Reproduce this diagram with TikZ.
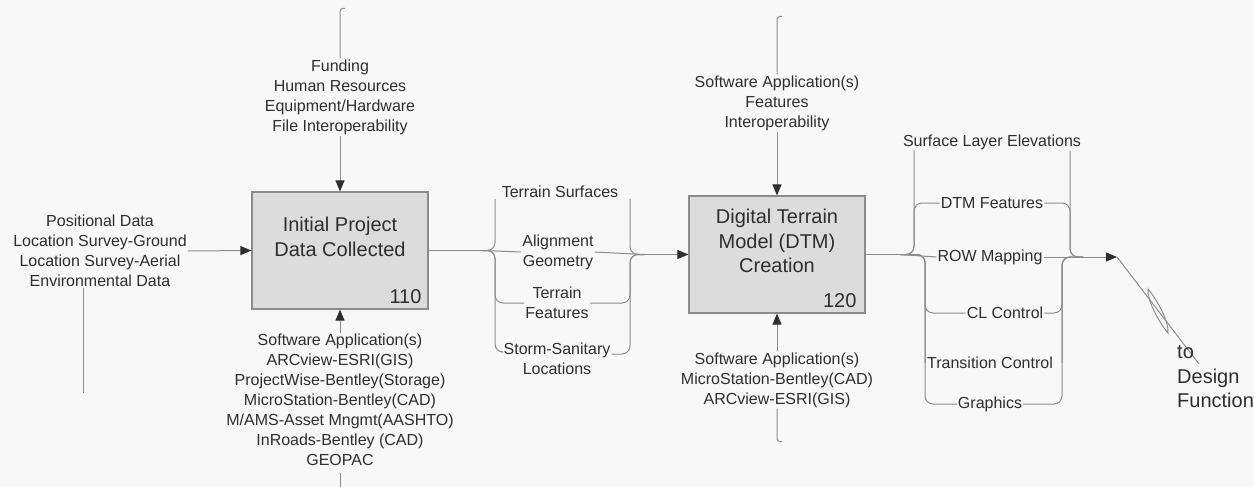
\documentclass[tikz,border=0pt]{standalone}
\usepackage{fontspec}
\setmainfont{Liberation Sans}
\usetikzlibrary{arrows.meta,positioning}

\definecolor{ink}{HTML}{2E2E2E}
\definecolor{wiregray}{HTML}{8C8C8C}
\definecolor{boxgray}{HTML}{DCDCDC}
\definecolor{paper}{HTML}{F8F8F8}

\tikzset{
	activity/.style={draw=wiregray,fill=boxgray,line width=1.2pt,minimum width=176pt,minimum height=117pt,inner sep=0pt},
	boxtext/.style={text=ink,align=center,font=\fontsize{20}{24.5}\selectfont},
	boxnum/.style={text=ink,anchor=south east,inner sep=0pt,font=\fontsize{20}{24}\selectfont},
	note/.style={text=ink,align=center,inner sep=1pt,font=\fontsize{16}{20}\selectfont},
	link/.style={draw=wiregray,line width=1pt},
	flow/.style={link,rounded corners=8pt},
	feed/.style={link,-{Triangle[length=11pt,width=9pt,color=ink]}},
}

\begin{document}
\begin{tikzpicture}[x=1pt,y=-1pt]
	\fill[paper] (0,0) rectangle (1254,487);
	\useasboundingbox (0,0) rectangle (1254,487);

	% the two activities
	\node[activity] (a110) at (340,250.5) {};
	\node[boxtext] (a110t) at (340,237) {Initial Project\\Data Collected};
	\node[boxnum] (a110n) at ([xshift=-7pt,yshift=6pt]a110.south east) {110};
	\node[activity] (a120) at (777,254.5) {};
	\node[boxtext] (a120t) at (777,241) {Digital Terrain\\Model (DTM)\\Creation};
	\node[boxnum] (a120n) at ([xshift=-9pt,yshift=6pt]a120.south east) {120};

	% input, controls and mechanisms of 110
	\node[note] (in110) at (100,251) {Positional Data\\Location Survey-Ground\\Location Survey-Aerial\\Environmental Data};
	\node[note] (ctl110) at (340,97) {Funding\\Human Resources\\Equipment/Hardware\\File Interoperability};
	\node[note] (mech110) at (340,400) {Software Application(s)\\ARCview-ESRI(GIS)\\ProjectWise-Bentley(Storage)\\MicroStation-Bentley(CAD)\\M/AMS-Asset Mngmt(AASHTO)\\InRoads-Bentley (CAD)\\GEOPAC};
	\draw[feed] (in110.east) -- (a110.west);
	\draw[link] ([xshift=-17pt]in110.south) -- ++(0,105);
	\draw[feed] (ctl110.south) -- (a110.north);
	\draw[link,rounded corners=3pt] (ctl110.north) -- ++(0,-50) -- ++(5,0);
	\draw[feed] (mech110.north) -- (a110.south);
	\draw[link] ([yshift=-6pt]mech110.south) -- ++(0,20);

	% controls and mechanisms of 120
	\node[note] (ctl120) at (777,103) {Software Application(s)\\Features\\Interoperability};
	\node[note] (mech120) at (777,380) {Software Application(s)\\MicroStation-Bentley(CAD)\\ARCview-ESRI(GIS)};
	\draw[feed] (ctl120.south) -- (a120.north);
	\draw[link,rounded corners=3pt] (ctl120.north) -- ++(0,-58) -- ++(5,0);
	\draw[feed] (mech120.north) -- (a120.south);
	\draw[link,rounded corners=3pt] (mech120.south) -- ++(0,33) -- ++(5,0);

	% 110 -> 120 bundle
	\coordinate (s1) at ([xshift=54pt]a110.east);
	\coordinate (j1) at ([xshift=-44pt]a120.west);
	\coordinate (bl1) at (495,0);
	\coordinate (br1) at (630,0);
	\node[note] (ts) at (560,192) {Terrain Surfaces};
	\node[note] (ag) at (558,252) {Alignment\\Geometry};
	\node[note] (tf) at (557,303) {Terrain\\Features};
	\node[note] (ss) at (557,359) {Storm-Sanitary\\Locations};
	\draw[link] (a110.east) -- (s1);
	\draw[flow] (s1) -| (bl1 |- ts.south);
	\draw[flow] (br1 |- ts.south) |- (j1);
	\draw[link] (s1) -- (ag.west);
	\draw[link] (ag.east) -- (j1);
	\draw[flow] (s1) -| (bl1 |- tf.west) -- (tf.west);
	\draw[flow] (tf.east) -| (br1 |- j1) -- (j1);
	\draw[flow] (s1) -| ([yshift=7pt]bl1 |- ss.west) -- ([yshift=7pt]ss.west);
	\draw[flow] ([yshift=5pt]ss.east) -| (br1 |- j1) -- (j1);
	\draw[feed] (j1) -- (a120.west);

	% 120 outputs
	\coordinate (s2) at ([xshift=35pt]a120.east);
	\coordinate (j2) at (1083,257);
	\coordinate (tip) at (1117,257);
	\coordinate (bu1) at (914,0);
	\coordinate (bu2) at (1070,0);
	\coordinate (bd1) at (925,0);
	\coordinate (bd2) at (1062,0);
	\node[note] (sle) at (992,142) {Surface Layer Elevations};
	\node[note] (dtm) at (992,203) {DTM Features};
	\node[note] (row) at (990,257) {ROW Mapping};
	\node[note] (clc) at (1005,313) {CL Control};
	\node[note] (trc) at (990,363) {Transition Control};
	\node[note] (gfx) at (990,404) {Graphics};
	\draw[link] (a120.east) -- (s2);
	\draw[flow] (s2) -| (bu1 |- sle.south);
	\draw[flow] (bu2 |- sle.south) |- (j2);
	\draw[flow] (s2) -| (bu1 |- dtm.west) -- (dtm.west);
	\draw[flow] (dtm.east) -| (bu2 |- j2) -- (j2);
	\draw[link] (s2) -- (row.west);
	\draw[link] (row.east) -- (j2);
	\draw[flow] (s2) -| (bd1 |- clc.west) -- (clc.west);
	\draw[flow] (clc.east) -| (bd2 |- j2) -- (j2);
	\draw[flow] (s2) -| (bd1 |- trc.west);
	\draw[flow] (bd2 |- trc.east) |- (j2);
	\draw[flow] (s2) -| (bd1 |- gfx.west) -- (gfx.west);
	\draw[flow] (gfx.east) -| (bd2 |- j2) -- (j2);
	\draw[feed] (j2) -- (tip);

	% off-page link with break mark
	\coordinate (brk) at (1199,364);
	\draw[link] (tip) -- (brk);
	\draw[link] (1148,289) .. controls (1158,301) and (1169,322) .. (1168,333) .. controls (1158,321) and (1147,300) .. cycle;
	\node[note,align=left,anchor=west,font=\fontsize{20}{24.5}\selectfont] (dest) at (1176,377) {to\\Design\\Function};
\end{tikzpicture}
\end{document}
